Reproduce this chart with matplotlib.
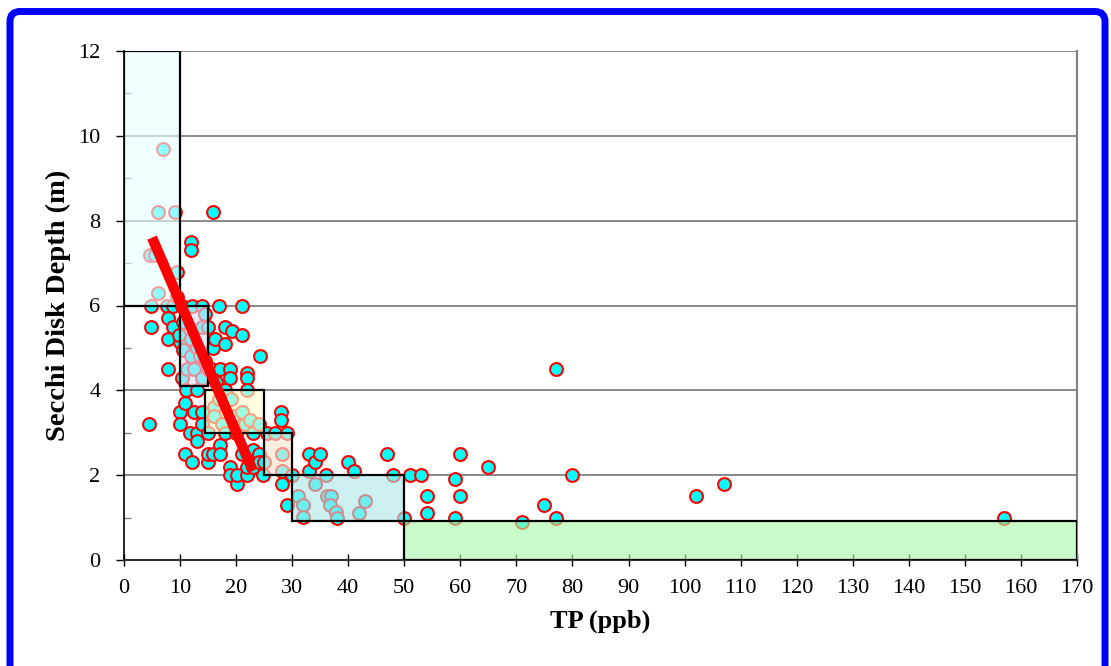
import matplotlib
matplotlib.use('Agg')
import matplotlib.pyplot as plt
from matplotlib.patches import Rectangle, FancyBboxPatch
from matplotlib.transforms import IdentityTransform
from matplotlib.ticker import MultipleLocator

# ---------------------------------------------------------
# donnees : TP (ppb) et profondeur Secchi (m)
tp_x = [4.5, 4.6, 5.5, 4.9, 4.8, 6.1, 6.1, 6.9, 7.6, 7.9, 7.9, 7.9, 8.8, 8.8, 9.1, 9.4,
        10, 10, 10, 10.3, 10.3, 10.6, 10.6, 9.5, 9.8,
        10.9, 10.9, 11.2, 11, 11.8, 11.95, 12, 12.1, 12.1, 12.4, 12, 12, 12.5, 13, 13,
        13, 13, 13.5, 13.9, 13.9, 14, 14, 14, 14.5, 15, 15, 15, 15, 15, 14.5,
        15.6, 15.9, 15.9, 16.2, 16, 16, 15.9, 16.5, 17, 17.1, 17.1, 17.1, 17, 17.5,
        18, 18, 18, 18, 18.9, 18.9, 18.9, 18.9, 19.2, 19, 19.5, 20.1, 20.1, 20,
        21, 21, 21, 21, 21.5, 22, 22, 22, 21.9, 22, 22.5, 23, 23, 23, 24.3, 24, 24, 24,
        24.8, 25, 25.5,
        26.9, 27.95, 27.95, 28.1, 28.1, 28.1, 29, 29, 29.9,
        31.1, 32, 32, 33, 33, 34, 34, 35, 36, 36.2, 37, 36.7, 37.9, 38, 40, 41, 43, 42,
        47, 48,
        50, 51, 53, 54, 54, 59, 59, 60, 60, 65, 71, 75, 77, 77, 80, 102, 107, 157]
secchi_y = [3.2, 7.2, 7.2, 6.0, 5.5, 8.2, 6.3, 9.7, 6.0, 5.7, 5.2, 4.5, 6.0, 5.5, 8.2, 6.8,
            5.15, 3.5, 3.2, 6.0, 4.3, 5.6, 4.95, 6.2, 5.3,
            3.7, 2.5, 4.5, 4.0, 3.0, 7.5, 7.3, 6.0, 2.3, 4.5, 4.8, 5.2, 3.5, 3.0, 2.8,
            4.0, 5.0, 4.8, 6.0, 4.3, 5.5, 3.5, 3.2, 5.8, 2.3, 2.5, 3.0, 4.5, 5.5, 4.7,
            4.5, 8.2, 5.0, 5.2, 3.6, 3.4, 2.5, 4.2, 6.0, 4.5, 2.7, 2.5, 3.8, 3.2,
            5.5, 5.1, 3.0, 4.0, 4.5, 4.3, 2.2, 2.0, 5.4, 3.8, 3.4, 1.8, 2.0, 3.0,
            6.0, 5.3, 3.5, 2.5, 3.2, 4.4, 4.3, 4.0, 2.0, 2.2, 3.3, 3.0, 2.6, 2.2, 4.8, 3.2, 2.5, 2.3,
            2.0, 2.3, 3.0,
            3.0, 3.5, 3.3, 2.5, 2.1, 1.8, 3.0, 1.3, 2.0,
            1.5, 1.3, 1.02, 2.5, 2.1, 2.3, 1.8, 2.5, 2.0, 1.5, 1.5, 1.3, 1.14, 1.0, 2.3, 2.1, 1.4, 1.1,
            2.5, 2.0,
            1.0, 2.0, 2.0, 1.5, 1.1, 1.9, 1.0, 2.5, 1.5, 2.2, 0.9, 1.3, 4.5, 1.0, 2.0, 1.5, 1.8, 1.0]

# boites (x0, x1, y0, y1) et couleurs
box_x0 = [0, 10, 14.5, 25, 30, 50]
box_x1 = [10, 15, 25, 30, 50, 170]
box_y0 = [6, 4.1, 3, 2, 0.93, 0]
box_y1 = [12, 6, 4, 3, 2, 0.93]
box_col = ['#e8ffff', '#d9e3f6', '#ffffcc', '#fde3d0', '#aee6e6', '#a8f8a8']

# droite de tendance
trend_x = [5, 23]
trend_y = [7.6, 2.1]

plt.rcParams['font.family'] = ['Liberation Serif', 'DejaVu Serif']

fig = plt.figure(figsize=(11.11, 6.66), dpi=100)
ax = fig.add_axes([124/1111, 106/666, 953/1111, 509/666])

ax.scatter(tp_x, secchi_y, s=85, c='#00ffff', edgecolors='red', linewidths=1.5, zorder=3)

for i in range(len(box_x0)):
    ax.add_patch(Rectangle((box_x0[i], box_y0[i]), box_x1[i]-box_x0[i], box_y1[i]-box_y0[i],
                           facecolor=matplotlib.colors.to_rgba(box_col[i], 0.62),
                           edgecolor='black', linewidth=1.6, zorder=4))

ax.plot(trend_x, trend_y, color='red', linewidth=7.5, solid_capstyle='butt', zorder=5)

ax.set_xlim(0, 170)
ax.set_ylim(0, 12)
ax.xaxis.set_major_locator(MultipleLocator(10))
ax.yaxis.set_major_locator(MultipleLocator(2))
ax.yaxis.set_minor_locator(MultipleLocator(1))
for yy in range(2, 13, 2):
    ax.axhline(yy, color='#808080', linewidth=1.3, zorder=1)

ax.spines['top'].set_visible(False)
ax.spines['right'].set_color('#808080')
ax.spines['right'].set_linewidth(1.5)
ax.spines['left'].set_color('black')
ax.spines['left'].set_linewidth(1.2)
ax.spines['bottom'].set_color('#303030')
ax.spines['bottom'].set_linewidth(1.5)

ax.tick_params(axis='x', which='major', direction='inout', length=8, width=1, labelsize=16, pad=10)
ax.tick_params(axis='y', which='major', direction='out', length=6, width=1, labelsize=16, pad=11)
ax.tick_params(axis='y', which='minor', direction='in', length=5, width=1, color='#808080')

ax.set_xlabel('TP (ppb)', fontsize=19, fontweight='bold', labelpad=8)
ax.set_ylabel('Secchi Disk Depth (m)', fontsize=20.5, fontweight='bold', labelpad=5)

# cadre bleu autour de la figure
frame = FancyBboxPatch((10, -50), 1095, 654.5 + 50, boxstyle='round,pad=0,rounding_size=10',
                       transform=IdentityTransform(), fill=False, edgecolor='blue', linewidth=5)
fig.add_artist(frame)

fig.savefig('out.png', dpi=100)
